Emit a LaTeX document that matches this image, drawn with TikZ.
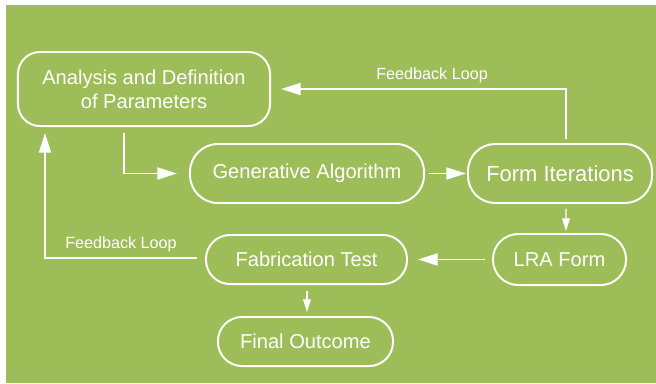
\documentclass[tikz,border=0pt]{standalone}
\usepackage{fontspec}
\setmainfont{Liberation Sans}
\usepackage{xcolor}
\usetikzlibrary{arrows.meta}
\definecolor{olive}{HTML}{9DBD58}

\begin{document}
\begin{tikzpicture}[x=0.025cm,y=-0.025cm,
    stage/.style={draw=white,line width=1.4pt,text=white,align=center,
      font=\fontsize{14.3}{17}\selectfont,inner sep=0pt},
    bigarr/.style={draw=white,line width=1.4pt,
      -{Triangle[length=14pt,width=8.5pt]}},
    smallarr/.style={draw=white,line width=0.8pt,
      -{Triangle[length=9pt,width=5.5pt]}},
    loop/.style={text=white,font=\fontsize{11.5}{13}\selectfont}]
  \useasboundingbox (0,0) rectangle (656,383);
  \fill[white] (0,0) rectangle (656,383);
  \fill[olive] (6,5) rectangle (656,383);

  % the stages
  \node (ana) [stage,minimum width=6.3cm,minimum height=1.85cm,
    rounded corners=0.55cm] at (144,89)
    {Analysis and Definition\\of Parameters};
  \node (gen) [stage,minimum width=5.85cm,minimum height=1.475cm,
    rounded corners=0.7cm] at (307,173.5) {Generative Algorithm};
  \node (fit) [stage,minimum width=4.6cm,minimum height=1.475cm,
    rounded corners=0.68cm,font=\fontsize{15.6}{18}\selectfont]
    at (560,173.5) {Form Iterations};
  \node (lra) [stage,minimum width=3.325cm,minimum height=1.275cm,
    rounded corners=0.63cm] at (559.5,259.5) {LRA Form};
  \node (fab) [stage,minimum width=5.025cm,minimum height=1.225cm,
    rounded corners=0.6cm] at (306.5,259.5) {Fabrication Test};
  \node (fin) [stage,minimum width=4.375cm,minimum height=1.225cm,
    rounded corners=0.6cm] at (305.5,341.5) {Final Outcome};

  % forward path
  \path (ana.south) +(-20,6) coordinate (anao);
  \path (gen.west) +(-12,0) coordinate (geni);
  \draw[bigarr] (anao) |- (geni);
  \path (gen.east) +(4,0) coordinate (geno);
  \path (fit.west) +(-1,0) coordinate (fiti);
  \draw[bigarr] (geno) -- (fiti);
  \path (fit.south) +(6,5) coordinate (fitb);
  \path (lra.north) +(6.5,-2) coordinate (lrai);
  \draw[smallarr] (fitb) -- (lrai);
  \path (lra.west) +(-7,0) coordinate (lrao);
  \path (fab.east) +(10,0) coordinate (fabi);
  \draw[bigarr] (lrao) -- (fabi);
  \path (fab.south) +(0.5,6) coordinate (fabb);
  \path (fin.north) +(1.5,-4) coordinate (fini);
  \draw[smallarr] (fabb) -- (fini);

  % feedback loops
  \path (fit.north) +(6,-4) coordinate (fito);
  \path (ana.east) +(10,0) coordinate (anai);
  \draw[bigarr] (fito) |- (anai)
    node [loop,pos=0.735,above=0pt] {Feedback Loop};
  \path (fab.west) +(-8,-1.5) coordinate (fabo);
  \path (ana.south) +(-99,6) coordinate (anab);
  \draw[bigarr] (fabo) -| (anab)
    node [loop,pos=0.25,above=0pt] {Feedback Loop};
\end{tikzpicture}
\end{document}
